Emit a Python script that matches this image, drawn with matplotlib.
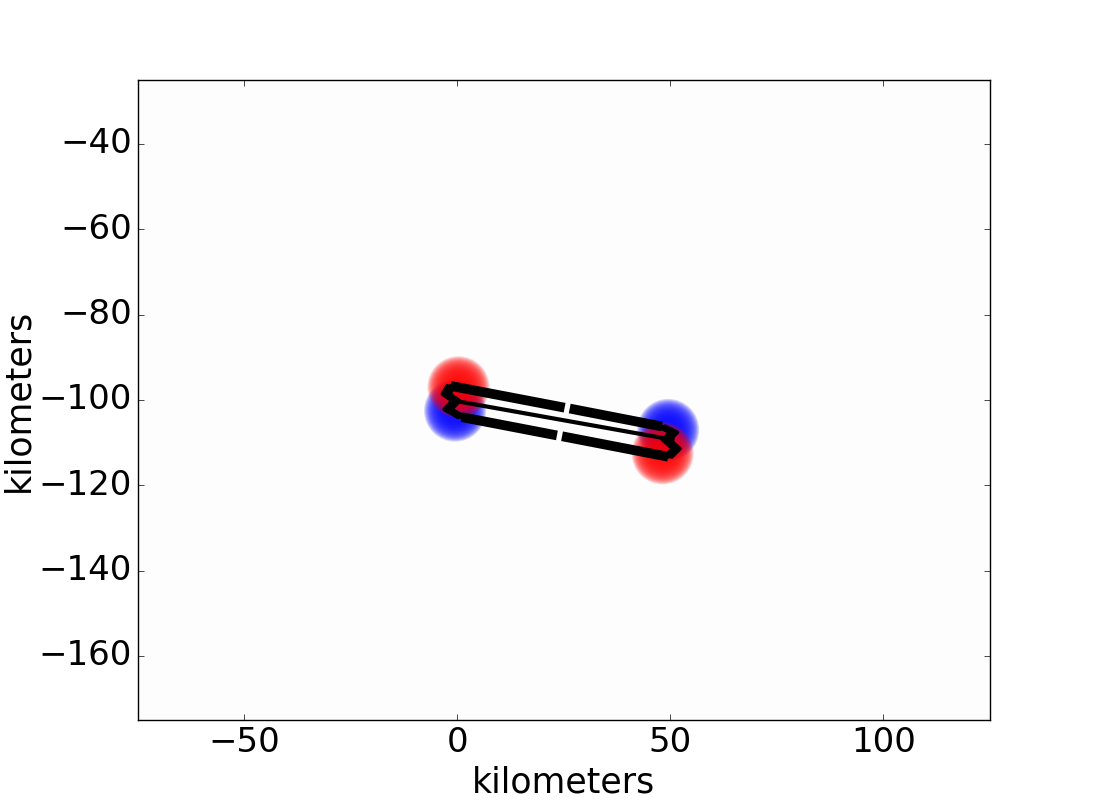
import numpy as np
import matplotlib
matplotlib.use('Agg')
import matplotlib.pyplot as plt

# dipole blob centres (km)
red_x = [0.3, 48.2]
red_y = [-97.0, -112.5]
blue_x = [-0.5, 49.5]
blue_y = [-102.5, -107.0]

# fault outline pieces (km)
top_x = [[-1.5, 25.2], [26.4, 48.0]]
top_y = [[-96.7, -101.8], [-102.0, -106.2]]
bot_x = [[1.0, 23.4], [24.6, 49.5]]
bot_y = [[-104.0, -108.3], [-108.5, -113.3]]
mid_x = [-0.5, 50.5]
mid_y = [-100.2, -109.3]
left_end_x = [-1.5, -2.6, -0.3, -2.2, 1.0]
left_end_y = [-96.7, -98.6, -100.2, -102.2, -104.0]
right_end_x = [48.0, 50.8, 49.0, 51.4, 49.5]
right_end_y = [-106.2, -107.6, -109.3, -111.4, -113.3]

xlim = (-75, 125)
ylim = (-175, -25)

plt.style.use('classic')
plt.rcParams['font.family'] = ['DejaVu Sans']

fig = plt.figure(figsize=(11, 8), dpi=100, facecolor='white')
ax = fig.add_subplot(111)
ax.set_facecolor('#fdfdfd')

# fuzzy blobs: stacked translucent discs
sizes = np.linspace(2000, 300, 16)
for s in sizes:
    ax.scatter(blue_x, blue_y, s=s, c='blue', alpha=0.14, edgecolors='none', zorder=2)
for s in sizes:
    ax.scatter(red_x, red_y, s=s, c='red', alpha=0.14, edgecolors='none', zorder=2)

for xs, ys in zip(top_x, top_y):
    ax.plot(xs, ys, '-', color='k', lw=7, solid_capstyle='butt', zorder=3)
for xs, ys in zip(bot_x, bot_y):
    ax.plot(xs, ys, '-', color='k', lw=7, solid_capstyle='butt', zorder=3)
ax.plot(mid_x, mid_y, '-', color='k', lw=3, zorder=3)

# ends drawn as a few overlapping thin strokes
for off in (-0.8, 0.0, 0.8):
    ax.plot(np.array(left_end_x) + off, left_end_y, '-', color='k', lw=3,
            solid_joinstyle='round', solid_capstyle='round', zorder=3)
    ax.plot(np.array(right_end_x) - off, right_end_y, '-', color='k', lw=3,
            solid_joinstyle='round', solid_capstyle='round', zorder=3)

ax.set_xlim(xlim)
ax.set_ylim(ylim)
ax.set_xticks([-50, 0, 50, 100])
ax.set_yticks([-40, -60, -80, -100, -120, -140, -160])
ax.tick_params(labelsize=24.5)
ax.set_xlabel('kilometers', fontsize=25)
ax.set_ylabel('kilometers', fontsize=25, labelpad=2)

fig.savefig('out.png', dpi=100, facecolor='white')
